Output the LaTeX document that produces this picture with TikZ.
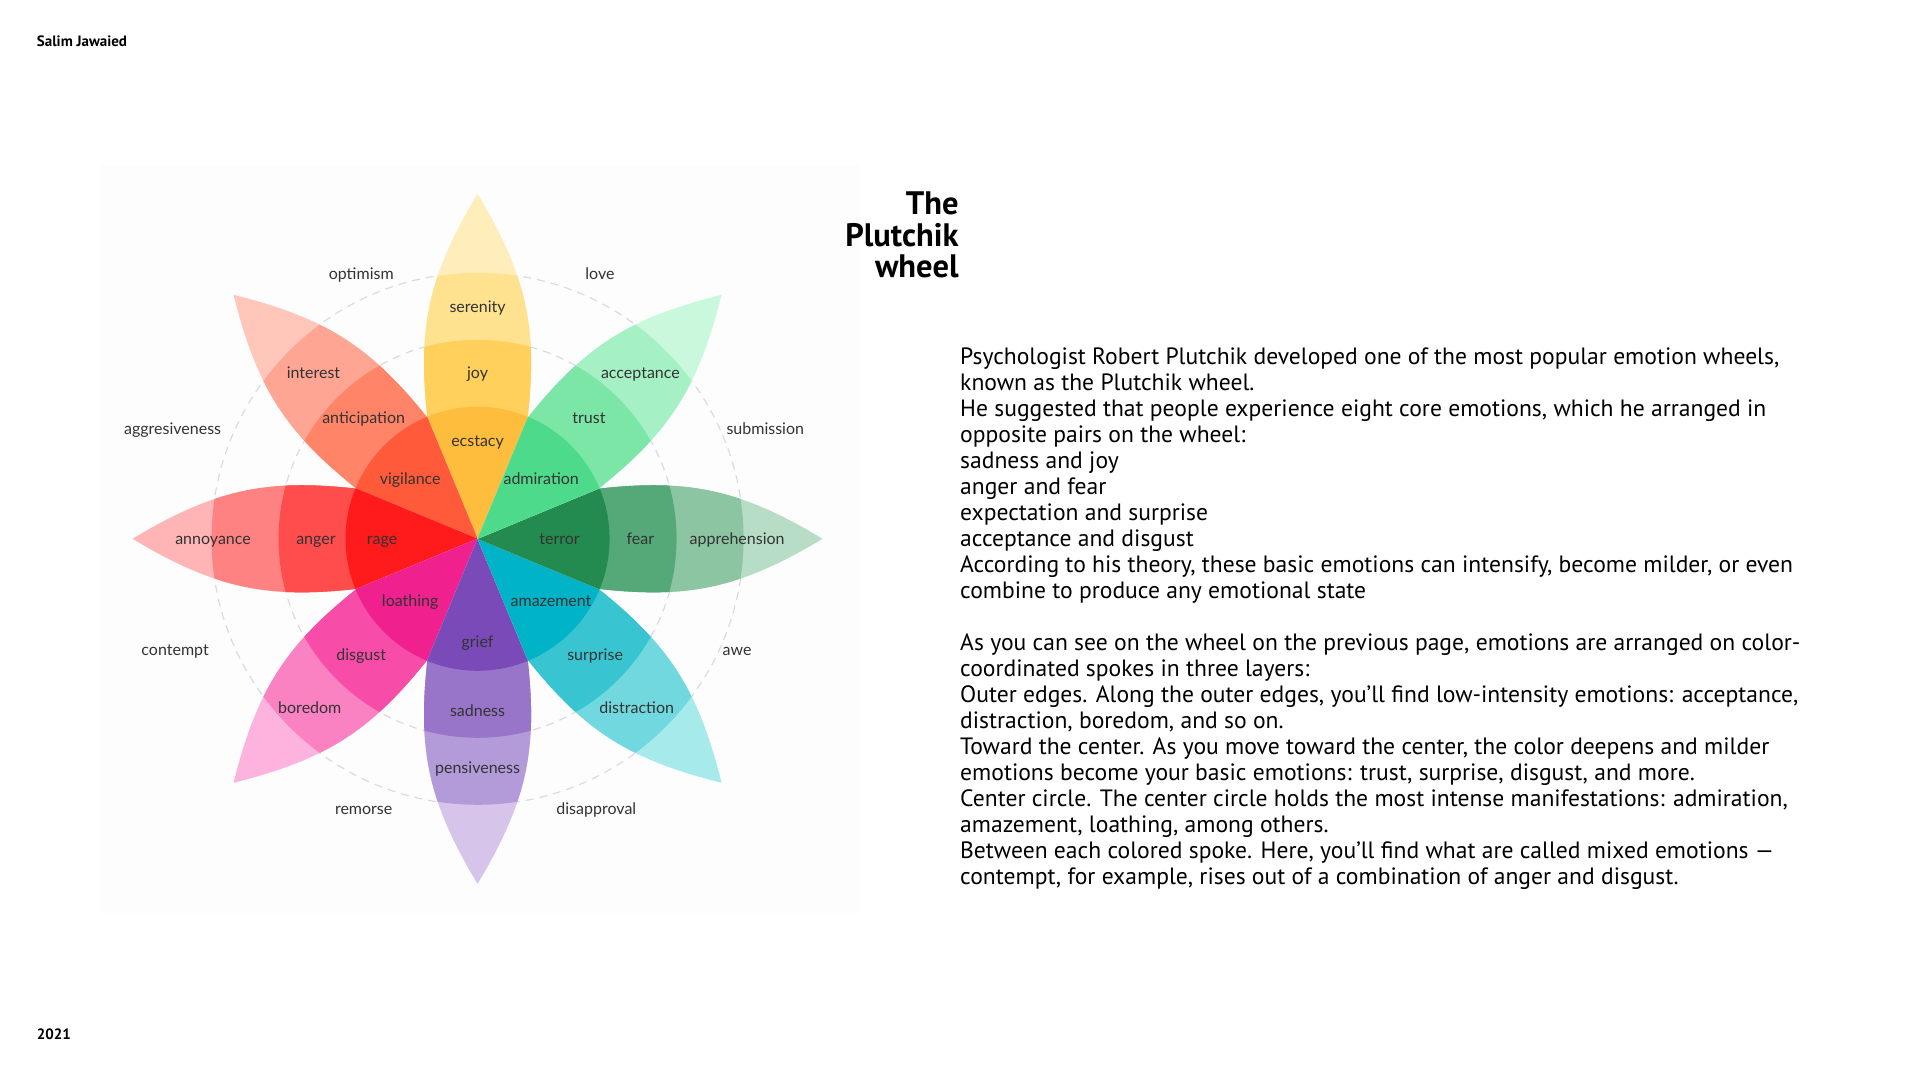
\documentclass[tikz,border=0pt]{standalone}
\usepackage{fontspec}
\setmainfont{PT Sans}
\newfontfamily\labfont{Lato}
\definecolor{y1}{HTML}{FFBD3E}\definecolor{y2}{HTML}{FFD05C}\definecolor{y3}{HTML}{FFE28F}\definecolor{y4}{HTML}{FFEEBB}
\definecolor{o1}{HTML}{FF5B3B}\definecolor{o2}{HTML}{FF8468}\definecolor{o3}{HTML}{FFA593}\definecolor{o4}{HTML}{FFC6B9}
\definecolor{r1}{HTML}{FF1B1B}\definecolor{r2}{HTML}{FF4D4D}\definecolor{r3}{HTML}{FF8282}\definecolor{r4}{HTML}{FFB5B5}
\definecolor{p1}{HTML}{F0208F}\definecolor{p2}{HTML}{F74DA8}\definecolor{p3}{HTML}{FB82C2}\definecolor{p4}{HTML}{FDB3DD}
\definecolor{v1}{HTML}{7A4BB8}\definecolor{v2}{HTML}{9875C8}\definecolor{v3}{HTML}{B39AD9}\definecolor{v4}{HTML}{D6C4EB}
\definecolor{c1}{HTML}{00B3C6}\definecolor{c2}{HTML}{38C5D1}\definecolor{c3}{HTML}{70D8DE}\definecolor{c4}{HTML}{A6EAEB}
\definecolor{d1}{HTML}{238B4F}\definecolor{d2}{HTML}{55A877}\definecolor{d3}{HTML}{8BC5A2}\definecolor{d4}{HTML}{B7DDC6}
\definecolor{g1}{HTML}{4DDB8B}\definecolor{g2}{HTML}{7CE6A6}\definecolor{g3}{HTML}{A6F0C5}\definecolor{g4}{HTML}{CAF8DC}
\definecolor{labgray}{HTML}{333333}
\definecolor{dashgray}{HTML}{D8DCE2}
\definecolor{imgbg}{HTML}{FDFDFD}
\begin{document}
\begin{tikzpicture}[x=1.2245pt,y=-1.2245pt,
  lab/.style={font=\labfont\fontsize{16}{18}\selectfont, text=labgray, anchor=base, inner sep=0pt},
  bodyline/.style={font=\fontsize{23.6}{26}\selectfont, anchor=base west, inner sep=0pt},
  titleline/.style={font=\bfseries\fontsize{32.5}{34}\selectfont, anchor=base east, inner sep=0pt},
  smallbold/.style={font=\bfseries\fontsize{15}{17}\selectfont, anchor=base west, inner sep=0pt}]
\useasboundingbox (0,0) rectangle (1568,882);
\fill[white] (0,0) rectangle (1568,882);
\fill[imgbg] (80.8,134.7) rectangle (702.3,745.6);
% wheel
\begin{scope}[shift={(390,440)}, x=1pt, y=1pt]
  \draw[dashgray, line width=1.2pt, dash pattern=on 8pt off 6pt] (0,0) circle (199);
  \draw[dashgray, line width=1.2pt, dash pattern=on 8pt off 6pt] (0,0) circle (266);
  \foreach \ang/\ca/\cb/\cc/\cd in {0/y1/y2/y3/y4, 45/o1/o2/o3/o4, 90/r1/r2/r3/r4, 135/p1/p2/p3/p4,
      180/v1/v2/v3/v4, 225/c1/c2/c3/c4, 270/d1/d2/d3/d4, 315/g1/g2/g3/g4}{
    \begin{scope}[rotate=\ang]
      \clip (0,0) -- (-50.13,121.03) .. controls (-60,210) and (-50,262) .. (0,345)
            .. controls (50,262) and (60,210) .. (50.13,121.03) -- cycle;
      \fill[\cd] (0,0) circle (350);
      \fill[\cc] (0,0) circle (266);
      \fill[\cb] (0,0) circle (199);
      \fill[\ca] (0,0) circle (132);
    \end{scope}
  }
\end{scope}
% wheel labels
\node[lab] (optimism) at (295,228) {optimism};
\node[lab] (love) at (490,228) {love};
\node[lab] (serenity) at (390,255) {serenity};
\node[lab] (interest) at (256,309) {interest};
\node[lab] (joy) at (390,309) {joy};
\node[lab] (acceptance) at (523,309) {acceptance};
\node[lab] (anticipation) at (297,346) {anticipation};
\node[lab] (trust) at (481,346) {trust};
\node[lab] (aggr) at (141,355) {aggresiveness};
\node[lab] (submission) at (625,355) {submission};
\node[lab] (ecstacy) at (390,365) {ecstacy};
\node[lab] (vigilance) at (335,396) {vigilance};
\node[lab] (admiration) at (442,396) {admiration};
\node[lab] (annoyance) at (174,445) {annoyance};
\node[lab] (anger) at (258,445) {anger};
\node[lab] (rage) at (312,445) {rage};
\node[lab] (terror) at (457,445) {terror};
\node[lab] (fear) at (523,445) {fear};
\node[lab] (apprehension) at (602,445) {apprehension};
\node[lab] (loathing) at (335,495) {loathing};
\node[lab] (amazement) at (450,495) {amazement};
\node[lab] (grief) at (390,529) {grief};
\node[lab] (contempt) at (143,535) {contempt};
\node[lab] (disgust) at (295,539) {disgust};
\node[lab] (surprise) at (486,539) {surprise};
\node[lab] (awe) at (602,535) {awe};
\node[lab] (boredom) at (253,583) {boredom};
\node[lab] (sadness) at (390,585) {sadness};
\node[lab] (distraction) at (520,583) {distraction};
\node[lab] (pensiveness) at (390,632) {pensiveness};
\node[lab] (remorse) at (297,665) {remorse};
\node[lab] (disapproval) at (487,665) {disapproval};
% header / footer
\node[smallbold] (author) at (30,38) {Salim Jawaied};
\node[smallbold] (year) at (30,849) {2021};
% title
\node[titleline] (t1) at (783,175) {The};
\node[titleline] (t2) at (783,201) {Plutchik};
\node[titleline] (t3) at (783,227) {wheel};
% body paragraph 1
\node[bodyline] (a1) at (784,298) {Psychologist Robert Plutchik developed one of the most popular emotion wheels,};
\node[bodyline] (a2) at (784,319.2) {known as the Plutchik wheel.};
\node[bodyline] (a3) at (784,340.4) {He suggested that people experience eight core emotions, which he arranged in};
\node[bodyline] (a4) at (784,361.7) {opposite pairs on the wheel:};
\node[bodyline] (a5) at (784,382.9) {sadness and joy};
\node[bodyline] (a6) at (784,404.1) {anger and fear};
\node[bodyline] (a7) at (784,425.3) {expectation and surprise};
\node[bodyline] (a8) at (784,446.5) {acceptance and disgust};
\node[bodyline] (a9) at (784,467.8) {According to his theory, these basic emotions can intensify, become milder, or even};
\node[bodyline] (a10) at (784,489.0) {combine to produce any emotional state};
% body paragraph 2
\node[bodyline] (b1) at (784,531.0) {As you can see on the wheel on the previous page, emotions are arranged on color-};
\node[bodyline] (b2) at (784,552.2) {coordinated spokes in three layers:};
\node[bodyline] (b3) at (784,573.4) {Outer edges. Along the outer edges, you’ll find low-intensity emotions: acceptance,};
\node[bodyline] (b4) at (784,594.7) {distraction, boredom, and so on.};
\node[bodyline] (b5) at (784,615.9) {Toward the center. As you move toward the center, the color deepens and milder};
\node[bodyline] (b6) at (784,637.1) {emotions become your basic emotions: trust, surprise, disgust, and more.};
\node[bodyline] (b7) at (784,658.3) {Center circle. The center circle holds the most intense manifestations: admiration,};
\node[bodyline] (b8) at (784,679.5) {amazement, loathing, among others.};
\node[bodyline] (b9) at (784,700.8) {Between each colored spoke. Here, you’ll find what are called mixed emotions —};
\node[bodyline] (b10) at (784,722.0) {contempt, for example, rises out of a combination of anger and disgust.};
\end{tikzpicture}
\end{document}
